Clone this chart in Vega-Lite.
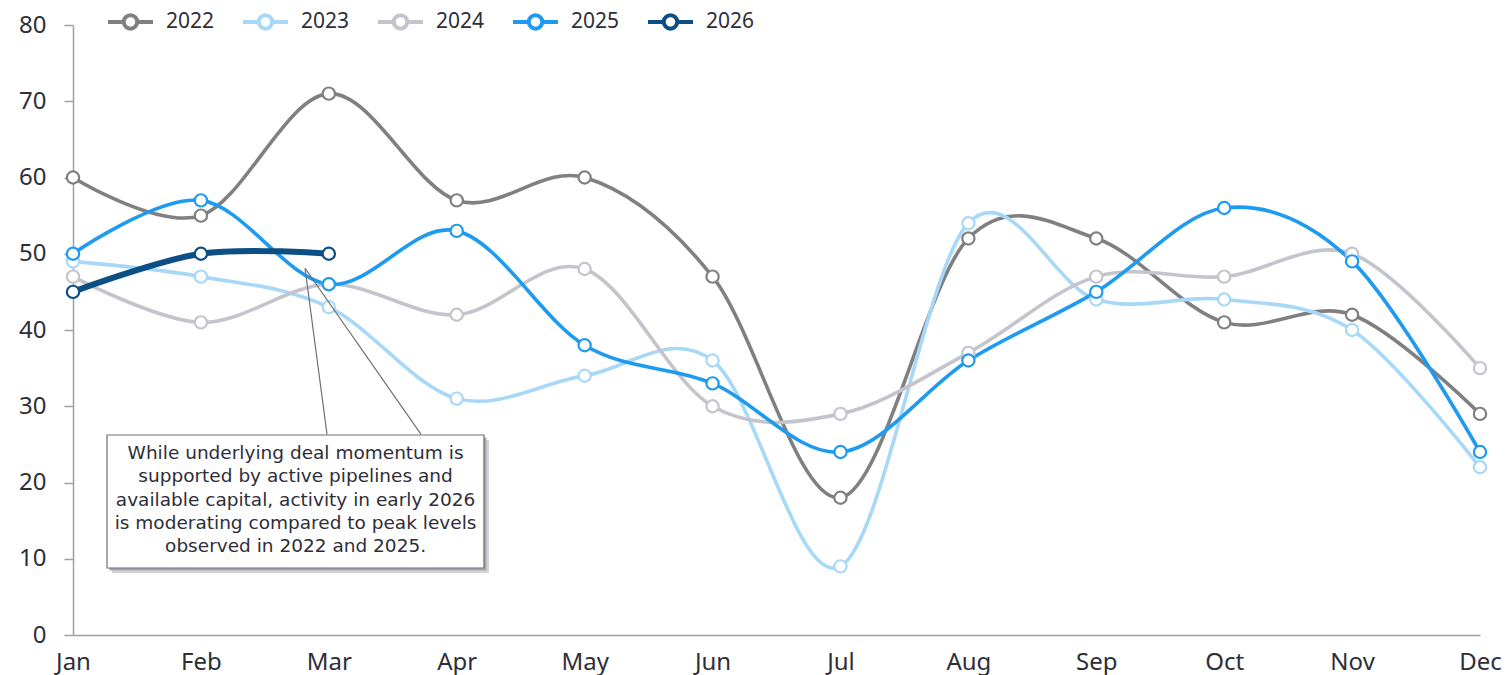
{
  "$schema": "https://vega.github.io/schema/vega-lite/v6.json",
  "width": 1407,
  "height": 610,
  "autosize": {"type": "none"},
  "padding": {"left": 73, "top": 25, "right": 26, "bottom": 40},
  "background": "white",
  "config": {
    "view": {"stroke": null},
    "font": "Noto Sans",
    "axis": {"labelFont": "Noto Sans", "labelColor": "#2e2e38", "grid": false}
  },
  "datasets": {
    "series": [
      {"m": 1, "year": "2022", "v": 60}, {"m": 2, "year": "2022", "v": 55}, {"m": 3, "year": "2022", "v": 71}, {"m": 4, "year": "2022", "v": 57}, {"m": 5, "year": "2022", "v": 60}, {"m": 6, "year": "2022", "v": 47}, {"m": 7, "year": "2022", "v": 18}, {"m": 8, "year": "2022", "v": 52}, {"m": 9, "year": "2022", "v": 52}, {"m": 10, "year": "2022", "v": 41}, {"m": 11, "year": "2022", "v": 42}, {"m": 12, "year": "2022", "v": 29},
      {"m": 1, "year": "2023", "v": 49}, {"m": 2, "year": "2023", "v": 47}, {"m": 3, "year": "2023", "v": 43}, {"m": 4, "year": "2023", "v": 31}, {"m": 5, "year": "2023", "v": 34}, {"m": 6, "year": "2023", "v": 36}, {"m": 7, "year": "2023", "v": 9}, {"m": 8, "year": "2023", "v": 54}, {"m": 9, "year": "2023", "v": 44}, {"m": 10, "year": "2023", "v": 44}, {"m": 11, "year": "2023", "v": 40}, {"m": 12, "year": "2023", "v": 22},
      {"m": 1, "year": "2024", "v": 47}, {"m": 2, "year": "2024", "v": 41}, {"m": 3, "year": "2024", "v": 46}, {"m": 4, "year": "2024", "v": 42}, {"m": 5, "year": "2024", "v": 48}, {"m": 6, "year": "2024", "v": 30}, {"m": 7, "year": "2024", "v": 29}, {"m": 8, "year": "2024", "v": 37}, {"m": 9, "year": "2024", "v": 47}, {"m": 10, "year": "2024", "v": 47}, {"m": 11, "year": "2024", "v": 50}, {"m": 12, "year": "2024", "v": 35},
      {"m": 1, "year": "2025", "v": 50}, {"m": 2, "year": "2025", "v": 57}, {"m": 3, "year": "2025", "v": 46}, {"m": 4, "year": "2025", "v": 53}, {"m": 5, "year": "2025", "v": 38}, {"m": 6, "year": "2025", "v": 33}, {"m": 7, "year": "2025", "v": 24}, {"m": 8, "year": "2025", "v": 36}, {"m": 9, "year": "2025", "v": 45}, {"m": 10, "year": "2025", "v": 56}, {"m": 11, "year": "2025", "v": 49}, {"m": 12, "year": "2025", "v": 24},
      {"m": 1, "year": "2026", "v": 45}, {"m": 2, "year": "2026", "v": 50}, {"m": 3, "year": "2026", "v": 50}
    ],
    "callout": [
      {"i": 0, "m": 2.986, "v": 26.3},
      {"i": 1, "m": 2.814, "v": 48.1},
      {"i": 2, "m": 3.721, "v": 26.3}
    ]
  },
  "layer": [
    {
      "data": {"name": "series"},
      "transform": [{"filter": "datum.year != '2026'"}],
      "mark": {"type": "line", "interpolate": "cardinal", "tension": 0, "strokeWidth": 3.6},
      "encoding": {
        "x": {
          "field": "m", "type": "quantitative",
          "scale": {"domain": [1, 12], "nice": false, "zero": false},
          "axis": {
            "title": null, "values": [1,2,3,4,5,6,7,8,9,10,11,12],
            "labelExpr": "['Jan','Feb','Mar','Apr','May','Jun','Jul','Aug','Sep','Oct','Nov','Dec'][datum.value - 1]",
            "ticks": false, "labelPadding": 15, "labelFontSize": 24, "labelFlush": false,
            "domainColor": "#a0a0a8", "domainWidth": 1.5, "labelBaseline": "top"
          }
        },
        "y": {
          "field": "v", "type": "quantitative",
          "scale": {"domain": [0, 80], "nice": false},
          "axis": {
            "title": null, "values": [0,10,20,30,40,50,60,70,80],
            "tickSize": 9, "tickColor": "#a0a0a8", "tickWidth": 1.5,
            "domainColor": "#a0a0a8", "domainWidth": 1.5,
            "labelPadding": 18, "labelFontSize": 24
          }
        },
        "color": {
          "field": "year", "type": "nominal",
          "scale": {"domain": ["2022","2023","2024","2025","2026"], "range": ["#808080","#a8d8f8","#c4c4cc","#1e9bf0","#0b4f85"]},
          "legend": {
            "title": null, "orient": "none", "direction": "horizontal",
            "legendX": 33, "legendY": -28,
            "labelFontSize": 21, "labelColor": "#2e2e38", "labelOffset": 11,
            "columnPadding": 20,
            "symbolType": "M-1,0 L-0.3,0 M0.3,0 L1,0 M-0.3,0 A0.3,0.3 0 1,0 0.3,0 A0.3,0.3 0 1,0 -0.3,0",
            "symbolSize": 2025, "symbolStrokeWidth": 4,
            "encode": {"symbols": {"update": {"fill": {"value": "white"}}}}
          }
        }
      }
    },
    {
      "data": {"name": "series"},
      "transform": [{"filter": "datum.year == '2026'"}],
      "mark": {"type": "line", "interpolate": "cardinal", "tension": 0, "strokeWidth": 6},
      "encoding": {
        "x": {"field": "m", "type": "quantitative"},
        "y": {"field": "v", "type": "quantitative"},
        "color": {"field": "year", "type": "nominal"}
      }
    },
    {
      "data": {"name": "series"},
      "mark": {"type": "point", "shape": "circle", "filled": false, "fill": "white", "fillOpacity": 1, "opacity": 1, "size": 150, "strokeWidth": 2.2},
      "encoding": {
        "x": {"field": "m", "type": "quantitative"},
        "y": {"field": "v", "type": "quantitative"},
        "color": {"field": "year", "type": "nominal", "legend": null}
      }
    },
    {
      "data": {"name": "callout"},
      "mark": {"type": "line", "stroke": "#6e6e78", "strokeWidth": 1.2},
      "encoding": {
        "x": {"field": "m", "type": "quantitative"},
        "y": {"field": "v", "type": "quantitative"},
        "order": {"field": "i", "type": "quantitative"}
      }
    },
    {
      "data": {"values": [{}]},
      "mark": {"type": "rect", "fill": "#d4d4d8", "xOffset": 5, "x2Offset": 5, "yOffset": 5, "y2Offset": 5},
      "encoding": {
        "x": {"datum": 1.266, "type": "quantitative"},
        "x2": {"datum": 4.213},
        "y": {"datum": 26.23, "type": "quantitative"},
        "y2": {"datum": 8.79}
      }
    },
    {
      "data": {"values": [{}]},
      "mark": {"type": "rect", "fill": "#a8a8b0", "xOffset": 2.5, "x2Offset": 2.5, "yOffset": 2.5, "y2Offset": 2.5},
      "encoding": {
        "x": {"datum": 1.266, "type": "quantitative"},
        "x2": {"datum": 4.213},
        "y": {"datum": 26.23, "type": "quantitative"},
        "y2": {"datum": 8.79}
      }
    },
    {
      "data": {"values": [{}]},
      "mark": {"type": "rect", "fill": "white", "stroke": "#6e6e78", "strokeWidth": 1.2},
      "encoding": {
        "x": {"datum": 1.266, "type": "quantitative"},
        "x2": {"datum": 4.213},
        "y": {"datum": 26.23, "type": "quantitative"},
        "y2": {"datum": 8.79}
      }
    },
    {
      "data": {"values": [{}]},
      "mark": {
        "type": "text", "align": "center", "baseline": "middle", "fontSize": 18.5, "lineHeight": 23.3,
        "color": "#2e2e38", "font": "DejaVu Sans",
        "text": ["While underlying deal momentum is", "supported by active pipelines and", "available capital, activity in early 2026", "is moderating compared to peak levels", "observed in 2022 and 2025."]
      },
      "encoding": {
        "x": {"datum": 2.74, "type": "quantitative"},
        "y": {"datum": 23.87, "type": "quantitative"}
      }
    }
  ]
}
